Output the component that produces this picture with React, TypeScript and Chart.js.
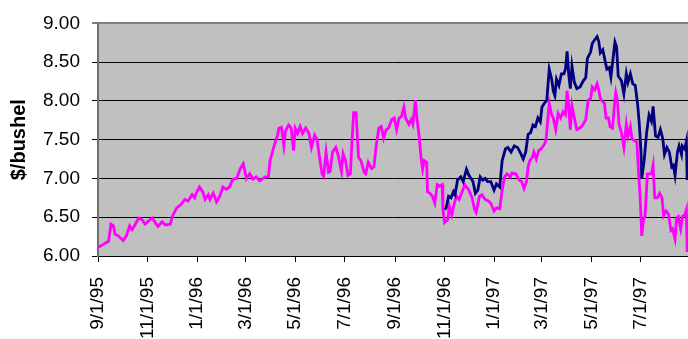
import React, { useEffect, useRef } from "react";
import { Chart, registerables } from "chart.js";

Chart.register(...registerables);

// X-axis tick labels (dates); positions derived as days after 9/1/95
const tickLabels = [
  "9/1/95", "11/1/95", "1/1/96", "3/1/96", "5/1/96", "7/1/96",
  "9/1/96", "11/1/96", "1/1/97", "3/1/97", "5/1/97", "7/1/97",
];

// Y-axis ticks
const yMin = 6;
const yMax = 9;
const yStep = 0.5;

// Last day shown on the axis (days after 9/1/95)
const xMaxDay = 727;

// Magenta series: day offsets from 9/1/95 and $/bushel values
const magentaDays = [
  0, 5, 13, 16, 19, 21, 25, 31, 35, 39, 42, 46, 50, 54, 58, 62, 67, 70, 74, 79,
  83, 89, 92, 97, 102, 107, 111, 116, 119, 121, 125, 129, 132, 136, 138, 142, 146, 150, 154, 158,
  162, 166, 171, 175, 179, 183, 187, 191, 195, 199, 206, 210, 212, 217, 221, 223, 226, 229, 231, 235,
  238, 241, 243, 246, 249, 252, 256, 260, 263, 267, 270, 273, 276, 278, 281, 284, 286, 289, 293, 296,
  300, 302, 305, 308, 311, 313, 315, 318, 321, 324, 328, 330, 333, 337, 340, 343, 346, 349, 352, 355,
  358, 362, 365, 368, 371, 374, 377, 379, 383, 386, 388, 391, 393, 396, 398, 400, 402, 405, 406, 409,
  412, 415, 418, 421, 424, 425, 427, 431, 433, 436, 439, 442, 445, 448, 452, 457, 461, 464, 466, 470,
  473, 477, 481, 484, 488, 491, 495, 498, 501, 504, 508, 510, 515, 519, 522, 525, 528, 530, 532, 535,
  537, 540, 543, 546, 550, 552, 554, 556, 559, 561, 564, 567, 570, 573, 576, 578, 580, 582, 584, 587,
  590, 594, 598, 601, 604, 607, 609, 612, 615, 617, 619, 622, 624, 626, 629, 631, 634, 637, 638, 640,
  642, 645, 648, 651, 653, 656, 658, 661, 664, 666, 668, 670, 672, 674, 677, 679, 682, 684, 686, 689,
  692, 695, 697, 700, 703, 706, 708, 711, 713, 715, 718, 720, 723, 725, 726,
];
const magentaValues = [
  6.11, 6.14, 6.19, 6.41, 6.39, 6.28, 6.26, 6.20, 6.26, 6.39, 6.34, 6.41, 6.49, 6.47, 6.41, 6.45, 6.49, 6.44, 6.38, 6.44,
  6.40, 6.41, 6.52, 6.62, 6.66, 6.73, 6.71, 6.79, 6.75, 6.81, 6.89, 6.83, 6.73, 6.79, 6.73, 6.81, 6.70, 6.77, 6.89, 6.86,
  6.89, 6.99, 7.00, 7.12, 7.19, 7.00, 7.06, 6.99, 7.02, 6.97, 7.02, 7.02, 7.23, 7.42, 7.55, 7.65, 7.66, 7.42, 7.61, 7.69,
  7.65, 7.36, 7.65, 7.58, 7.67, 7.58, 7.65, 7.58, 7.40, 7.56, 7.50, 7.27, 7.06, 7.03, 7.34, 7.08, 7.09, 7.34, 7.40, 7.30,
  7.09, 7.32, 7.23, 7.04, 7.06, 7.48, 7.85, 7.85, 7.27, 7.23, 7.08, 7.06, 7.21, 7.13, 7.15, 7.44, 7.65, 7.67, 7.52, 7.63,
  7.65, 7.76, 7.78, 7.63, 7.78, 7.80, 7.92, 7.78, 7.70, 7.76, 7.70, 8.01, 7.78, 7.52, 7.27, 7.12, 7.23, 7.21, 6.83, 6.81,
  6.77, 6.68, 6.92, 6.90, 6.92, 6.60, 6.43, 6.47, 6.64, 6.53, 6.68, 6.77, 6.73, 6.81, 6.92, 6.85, 6.75, 6.60, 6.56, 6.77,
  6.79, 6.73, 6.71, 6.68, 6.58, 6.62, 6.61, 6.85, 7.02, 7.06, 7.02, 7.07, 7.06, 6.98, 6.96, 6.87, 6.96, 7.15, 7.23, 7.27,
  7.34, 7.25, 7.36, 7.38, 7.44, 7.49, 7.73, 7.97, 7.82, 7.78, 7.63, 7.84, 7.78, 7.86, 7.82, 8.13, 7.94, 7.63, 7.94, 7.78,
  7.63, 7.65, 7.70, 7.76, 8.01, 8.03, 8.18, 8.14, 8.22, 8.14, 8.03, 7.99, 7.97, 7.78, 7.78, 7.67, 7.65, 8.03, 8.11, 8.01,
  7.70, 7.59, 7.40, 7.70, 7.55, 7.67, 7.51, 7.49, 7.47, 7.10, 6.77, 6.26, 6.47, 6.51, 7.06, 7.06, 7.06, 7.17, 6.75, 6.75,
  6.81, 6.75, 6.52, 6.58, 6.54, 6.33, 6.35, 6.22, 6.49, 6.51, 6.35, 6.51, 6.53, 6.60, 6.05,
];

// Navy series: day offsets from 9/1/95 and $/bushel values
const navyDays = [
  427, 429, 432, 435, 438, 440, 443, 447, 450, 454, 457, 462, 465, 468, 471, 474, 477, 480, 484, 488,
  491, 495, 498, 502, 505, 509, 513, 517, 521, 524, 527, 530, 533, 536, 539, 542, 545, 547, 550, 553,
  556, 559, 561, 563, 565, 568, 571, 574, 576, 578, 580, 582, 584, 587, 590, 594, 598, 601, 603, 607,
  609, 612, 615, 617, 619, 622, 624, 627, 630, 632, 635, 637, 639, 641, 645, 648, 651, 653, 656, 659,
  662, 665, 667, 669, 670, 673, 676, 679, 682, 684, 687, 690, 693, 696, 698, 701, 704, 707, 709, 711,
  714, 716, 719, 720, 723, 725, 726,
];
const navyValues = [
  6.60, 6.62, 6.77, 6.75, 6.83, 6.79, 6.98, 7.02, 6.96, 7.12, 7.04, 6.96, 6.81, 6.85, 7.02, 6.98, 7.00, 6.96, 6.96, 6.85,
  6.93, 6.89, 7.23, 7.38, 7.40, 7.34, 7.42, 7.40, 7.32, 7.25, 7.34, 7.57, 7.59, 7.69, 7.67, 7.78, 7.73, 7.92, 7.97, 8.01,
  8.41, 8.28, 8.13, 8.07, 8.28, 8.20, 8.35, 8.35, 8.41, 8.64, 8.35, 8.16, 8.45, 8.24, 8.16, 8.18, 8.26, 8.30, 8.55, 8.63,
  8.74, 8.79, 8.83, 8.77, 8.62, 8.66, 8.56, 8.41, 8.43, 8.31, 8.58, 8.76, 8.70, 8.32, 8.26, 8.09, 8.35, 8.24, 8.35, 8.22,
  8.20, 7.95, 7.70, 7.36, 7.00, 7.23, 7.59, 7.82, 7.74, 7.93, 7.55, 7.53, 7.63, 7.51, 7.31, 7.40, 7.34, 7.15, 7.17, 7.04,
  7.34, 7.42, 7.31, 7.42, 7.38, 7.48, 6.98,
];

function dayOffset(label: string): number {
  const [m, d, y] = label.split("/").map(Number);
  return Math.round((Date.UTC(1900 + y, m - 1, d) - Date.UTC(1995, 8, 1)) / 86400000);
}

const tickDays = tickLabels.map(dayOffset);

const FONT = "'Liberation Sans', Arial, Helvetica, sans-serif";

const plotBackground = {
  id: "plotBackground",
  beforeDraw(chart: any) {
    const { ctx, chartArea: a } = chart;
    ctx.save();
    ctx.fillStyle = "#C0C0C0";
    ctx.fillRect(a.left, a.top, a.right - a.left, a.bottom - a.top);
    ctx.restore();
  },
};

export default function App() {
  const canvasRef = useRef<HTMLCanvasElement | null>(null);

  useEffect(() => {
    if (!canvasRef.current) return;
    Chart.defaults.font.family = FONT;
    const chart = new Chart(canvasRef.current, {
      type: "line",
      data: {
        datasets: [
          {
            label: "Series 2",
            data: navyDays.map((d, i) => ({ x: d, y: navyValues[i] })),
            borderColor: "#000080",
            backgroundColor: "#000080",
            borderWidth: 2.8,
            pointRadius: 0,
            tension: 0,
            fill: false,
          },
          {
            label: "Series 1",
            data: magentaDays.map((d, i) => ({ x: d, y: magentaValues[i] })),
            borderColor: "#FF00FF",
            backgroundColor: "#FF00FF",
            borderWidth: 2.8,
            pointRadius: 0,
            tension: 0,
            fill: false,
          },
        ],
      },
      options: {
        animation: false,
        responsive: false,
        maintainAspectRatio: false,
        layout: { padding: { top: 18, left: 0, right: 0, bottom: 0 } },
        plugins: {
          legend: { display: false },
          tooltip: { enabled: false },
        },
        scales: {
          x: {
            type: "linear",
            min: 0,
            max: xMaxDay,
            afterBuildTicks: (s: any) => {
              s.ticks = tickDays.map((v) => ({ value: v }));
            },
            afterFit: (s: any) => {
              s.height = 83;
              s.paddingLeft = 0;
              s.paddingRight = 0;
            },
            grid: {
              drawOnChartArea: false,
              drawTicks: true,
              tickLength: 6,
              color: "#000",
            },
            border: { color: "#000", width: 1 },
            ticks: {
              autoSkip: false,
              maxRotation: 90,
              minRotation: 90,
              padding: 15,
              color: "#000",
              font: { family: FONT, size: 19 },
              callback: (v: any) => {
                const i = tickDays.indexOf(Number(v));
                return i >= 0 ? tickLabels[i] : "";
              },
            },
          },
          y: {
            min: yMin,
            max: yMax,
            afterFit: (s: any) => {
              s.width = 98;
            },
            grid: {
              color: (c: any) => (c.tick && c.tick.value === yMax ? "#808080" : "#000"),
              lineWidth: (c: any) => (c.tick && c.tick.value === yMax ? 2 : 1),
              tickLength: 6,
            },
            border: { color: "#707070", width: 2 },
            ticks: {
              stepSize: yStep,
              padding: 12,
              color: "#000",
              font: { family: FONT, size: 19 },
              callback: (v: any) => Number(v).toFixed(2),
            },
            title: {
              display: true,
              text: "$/bushel",
              color: "#000",
              font: { family: FONT, size: 20, weight: "bold" },
              padding: { top: 7, bottom: 0 },
            },
          },
        },
      },
      plugins: [plotBackground],
    } as any);
    return () => chart.destroy();
  }, []);

  return (
    <div style={{ position: "fixed", left: 0, top: 0, width: 688, height: 339, background: "#fff" }}>
      <canvas ref={canvasRef} width={688} height={339} style={{ display: "block" }} />
    </div>
  );
}
